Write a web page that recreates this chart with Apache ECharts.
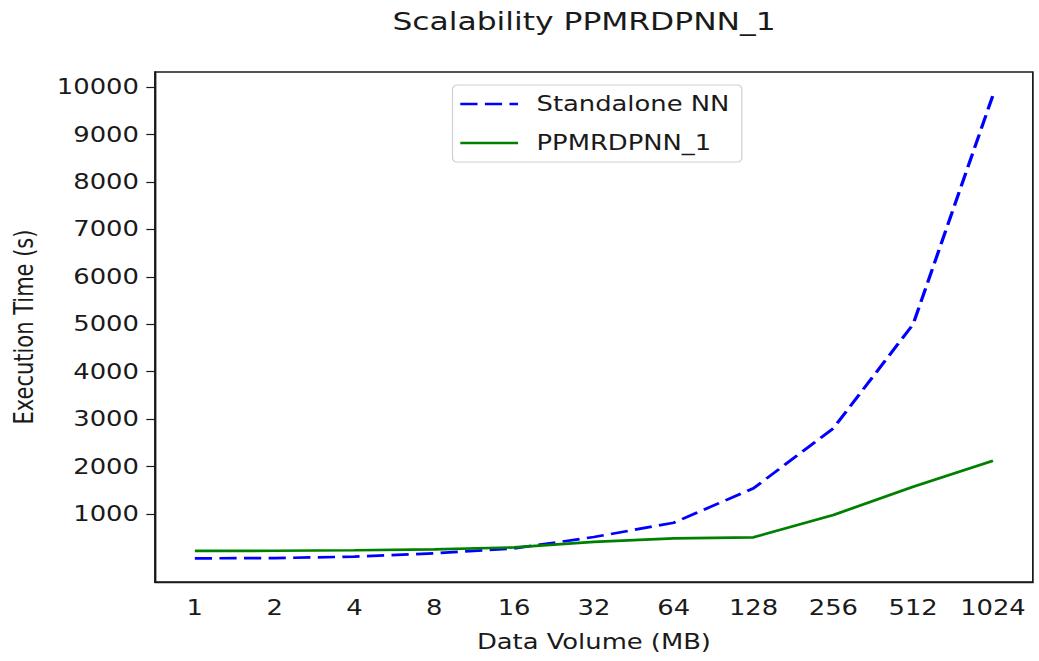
<!DOCTYPE html>
<html>
<head>
<meta charset="utf-8">
<script src="https://cdn.jsdelivr.net/npm/echarts@6/dist/echarts.min.js"></script>
<style>
html,body{margin:0;padding:0;background:#fff;overflow:hidden;}
#wrap{width:1039px;height:661px;overflow:hidden;}
#c{width:845px;height:661px;transform:scaleX(1.2296);transform-origin:0 0;}
</style>
</head>
<body>
<div id="wrap"><div id="c"></div></div>
<script>
const categories = ['1','2','4','8','16','32','64','128','256','512','1024'];
const standaloneNN = [65, 70, 100, 170, 275, 514, 816, 1541, 2806, 5000, 9827];
const ppmrdpnn1 = [220, 225, 235, 255, 295, 410, 487, 508, 978, 1575, 2123];
const yTicks = [1000,2000,3000,4000,5000,6000,7000,8000,9000,10000];

const font = 'DejaVu Sans';
const ink = '#1a1a1a';
const chart = echarts.init(document.getElementById('c'), null, {renderer:'svg'});
chart.setOption({
  animation:false,
  backgroundColor:'#fff',
  title:{text:'Scalability PPMRDPNN_1', left:470, top:3, textAlign:'center',
    textStyle:{fontFamily:font,fontSize:25.5,fontWeight:'normal',color:ink}},
  legend:{orient:'vertical', left:368, top:85, padding:[7,10,7,5], itemGap:15,
    itemWidth:47, itemHeight:14, backgroundColor:'#fff', borderColor:'#d0d0d0', borderWidth:1, borderRadius:4,
    itemStyle:{color:'rgba(0,0,0,0)', borderWidth:0, opacity:0},
    lineStyle:{width:2.7},
    textStyle:{fontFamily:font,fontSize:21,color:ink,lineHeight:24,padding:[0,0,0,10]},
    data:['Standalone NN','PPMRDPNN_1']},
  grid:{left:126, right:5, top:72, bottom:79, show:true, borderColor:ink, borderWidth:1.4},
  xAxis:{type:'category', data:categories, boundaryGap:true,
    name:'Data Volume (MB)', nameLocation:'middle', nameGap:49,
    nameTextStyle:{fontFamily:font,fontSize:21,color:ink},
    axisLine:{onZero:false,lineStyle:{color:ink,width:1.4}},
    axisTick:{alignWithLabel:true, interval:0, length:8, lineStyle:{color:ink,width:1.2}},
    axisLabel:{interval:0, fontFamily:font,fontSize:21,color:ink,margin:15},
    splitLine:{show:false}},
  yAxis:{type:'value', min:-434, max:10316,
    name:'Execution Time (s)', nameLocation:'middle', nameGap:96,
    nameTextStyle:{fontFamily:font,fontSize:21,color:ink},
    axisLine:{show:true,lineStyle:{color:ink,width:1.4}},
    axisTick:{show:true,length:7,customValues:yTicks,lineStyle:{color:ink,width:1.2}},
    axisLabel:{fontFamily:font,fontSize:21,color:ink,margin:13,customValues:yTicks,
      formatter:function(v){return String(v);}},
    splitLine:{show:false}},
  series:[
    {name:'Standalone NN', type:'line', data:standaloneNN, symbol:'none', smooth:false,
      itemStyle:{color:'#0000ff'},
      lineStyle:{color:'#0000ff',width:2.7,type:[14,6]}},
    {name:'PPMRDPNN_1', type:'line', data:ppmrdpnn1, symbol:'none', smooth:false,
      itemStyle:{color:'#008000'},
      lineStyle:{color:'#008000',width:2.7}}
  ]
});
</script>
</body>
</html>
